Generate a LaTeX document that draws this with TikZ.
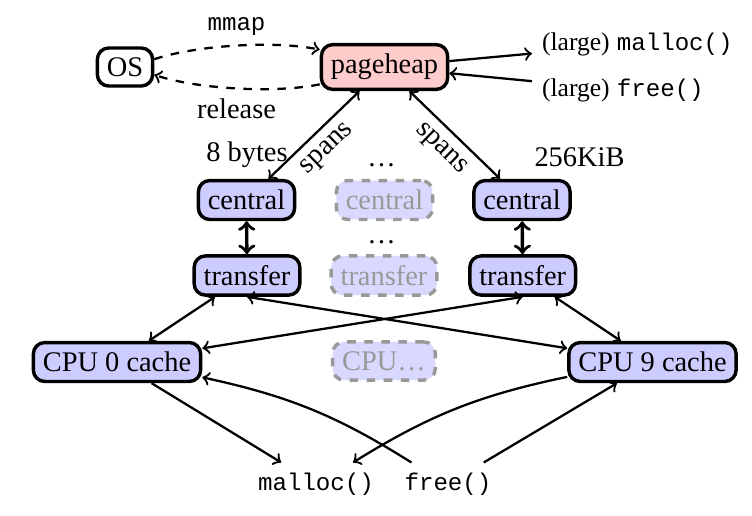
\documentclass[tikz,border=0pt]{standalone}
\usepackage{fontspec}
\setmainfont{Liberation Serif}
\setmonofont{Liberation Mono}[Scale=0.85]
\usetikzlibrary{positioning}
\usetikzlibrary{arrows,shapes}
\usetikzlibrary{calc}
\tikzstyle{box}=[draw,very thick,rounded corners=4pt,fill=blue!20]
\tikzstyle{ghostbox}=[draw=black!40,very thick,dashed,rounded corners=4pt,fill=blue!15,text=black!40]
\tikzstyle{flow}=[thick]

\begin{document}
\begin{tikzpicture}[x=0.352pt, y=0.352pt]

   \useasboundingbox (0,0) rectangle (752,-515);

   % top: OS and pageheap
   \node[box,fill=white] (os) at (125,-67) {OS};
   \node[box,fill=red!20] (pageheap) at (384.5,-67) {pageheap};

   % size classes
    \foreach \pos/\name/\txt in {{(246.5,-200)/centralA/central}, {(247,-275.5)/transferA/transfer}, {(117,-362)/cpuA/CPU 0 cache},
                                 {(522,-200)/centralC/central}, {(522.7,-275.5)/transferC/transfer}, {(652.5,-362)/cpuC/CPU 9 cache}}
        \node[box] (\name) at \pos {\txt};

    \foreach \pos/\name/\txt in {{(384.5,-200)/centralB/central}, {(384,-275.5)/transferB/transfer}, {(384,-361)/cpuB/CPU\ldots}}
        \node[ghostbox] (\name) at \pos {\txt};

   \node[anchor=base] (dotsA) at (381.5,-166) {\ldots};
   \node[anchor=base] (dotsB) at (381.5,-243) {\ldots};
   \node[anchor=base] (small) at (247,-161) {8 bytes};
   \node[anchor=base] (large) at (579.5,-166) {256KiB};

   \node[anchor=base west] (lmalloc) at (532,-50) {{\small (large)} \texttt{malloc()}};
   \node[anchor=base west] (lfree) at (532,-96) {{\small (large)} \texttt{free()}};
   \node[anchor=base] (malloc) at (316,-490) {\texttt{malloc()}};
   \node[anchor=base] (free) at (448,-490) {\texttt{free()}};

   \draw[->, dashed, flow] (os) to[bend left=15, looseness=0.7] node[above]{\texttt{mmap}} (pageheap);
   \draw[->, dashed, flow] (pageheap) to[bend left=15, looseness=0.7] node[below]{release} (os);

   \draw[->, flow] (pageheap) -- (lmalloc);
   \draw[->, flow] (lfree) -- (pageheap);

   \draw[<->, flow] (centralA) -- node[sloped,below]{spans} (pageheap);
   \draw[<->, flow] (pageheap) -- node[sloped,below]{spans} (centralC);

   \draw[<->, very thick] (centralA) -- (transferA);
   \draw[<->, very thick] (centralC) -- (transferC);

   \foreach \source/\dest in {transferA/cpuA, transferA.south/cpuC, transferC.south/cpuA, transferC/cpuC}
        \draw[<->, flow] (\source) -- (\dest);

   \draw[->, flow] (cpuA) -- (malloc);
   \draw[->, flow] (cpuC) to[bend right=10] (malloc);
   \draw[->, flow] (free) to[bend right=10] (cpuA);
   \draw[->, flow] (free) -- (cpuC);

\end{tikzpicture}
\end{document}
